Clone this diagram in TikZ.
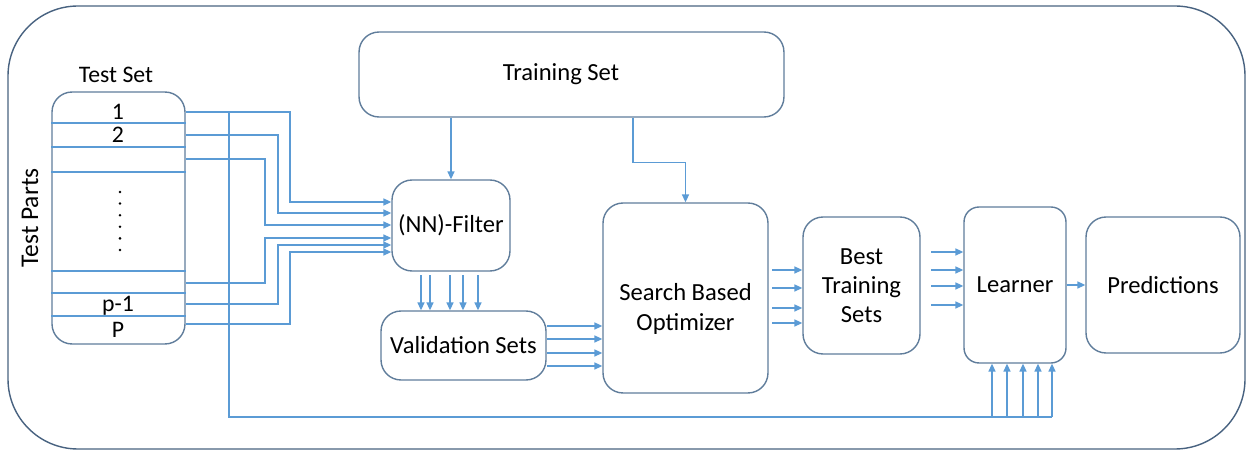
\documentclass[tikz,border=0pt]{standalone}
\usepackage{fontspec}
\setmainfont{Carlito}
\usetikzlibrary{positioning,arrows.meta}
\definecolor{linec}{RGB}{91,155,213}
\definecolor{boxc}{RGB}{96,125,155}
\definecolor{framec}{RGB}{72,98,128}

\begin{document}
\begin{tikzpicture}[x=0.02cm,y=-0.02cm,
  box/.style={draw=boxc,line width=0.8pt,rounded corners=0.4cm,align=center,inner sep=0pt,font=\fontsize{14}{16.5}\selectfont},
  arr/.style={draw=linec,line width=0.8pt,-{Triangle[length=4.5pt,width=4pt]}},
  wire/.style={draw=linec,line width=0.8pt},
  lbl/.style={inner sep=0pt,font=\fontsize{13.5}{15}\selectfont}]
\useasboundingbox (0,0) rectangle (1248,452);
\draw[framec,line width=0.8pt,rounded corners=1.4cm] (8,6) rectangle (1245,449);

% boxes
\node[box,minimum width=8.5cm,minimum height=1.7cm] (train) at (571.5,74.5) {Training Set\hspace*{12pt}};
\node[box,minimum width=2.66cm,minimum height=5.04cm] (test) at (118.5,218) {};
\node[box,minimum width=2.36cm,minimum height=1.82cm] (filter) at (451,225.5) {(NN)-Filter};
\node[box,minimum width=3.3cm,minimum height=1.38cm] (val) at (463.5,345.5) {Validation Sets};
\node[box,minimum width=3.3cm,minimum height=3.8cm,font=\fontsize{14}{17}\selectfont] (sbo) at (685.5,298) {\rule{0pt}{22pt}Search Based\\Optimizer};
\node[box,minimum width=2.34cm,minimum height=2.74cm] (best) at (861.5,285.5) {Best\\Training\\Sets};
\node[box,minimum width=2.04cm,minimum height=3.12cm,rounded corners=0.3cm] (learner) at (1015,285) {Learner};
\node[box,minimum width=3.08cm,minimum height=2.72cm] (pred) at (1163,285) {Predictions};

% test set parts
\node[lbl] (testset) at (116,75) {Test Set};
\node[lbl,rotate=90,font=\fontsize{14.5}{16}\selectfont] (parts) at (30,218) {Test Parts};
\foreach \y in {123,147,172,271,293,316}
  \draw[wire] (test.west |- 0,\y) -- (test.east |- 0,\y);
\node[lbl] (p1) at (118,112) {1};
\node[lbl] (p2) at (118,135) {2};
\node[lbl] (pm) at (118,306) {p-1};
\node[lbl] (pn) at (118,330) {P};
\foreach \d in {0,...,5}
  \fill (120,192+11.6*\d) circle (0.028cm);

% test parts into filter
\foreach \ry/\tx/\fy in {112/290/202,135/278/213,159/265/225,283/265/238,304/278/245,324/290/252}
  \draw[arr] (test.east |- 0,\ry) -| (\tx,\fy) -- (filter.west |- 0,\fy);

% training set
\draw[arr] (train.south -| filter.north) -- (filter.north);
\draw[arr] ([xshift=1.23cm]train.south) -- ++(0,45) -| (sbo.north);

\foreach \x in {421,430,450,463,478}
  \draw[arr] ([yshift=-2pt]filter.south -| \x,0) -- (val.north -| \x,0);
\foreach \y in {326,339,353,366}
  \draw[arr] (val.east |- 0,\y) -- (sbo.west |- 0,\y);
\foreach \y in {270,288,308,323}
  \draw[arr] ([xshift=2pt]sbo.east |- 0,\y) -- (best.west |- 0,\y);
\foreach \y in {252,270,286,305}
  \draw[arr] ([xshift=6pt]best.east |- 0,\y) -- (learner.west |- 0,\y);
\draw[arr] (learner) -- (pred);

% test set straight to learner
\coordinate (busTop) at (229,112);
\coordinate (busEnd) at (1052,417);
\draw[wire] (busTop) |- (busEnd);
\foreach \x in {992,1007,1023,1038,1052}
  \draw[arr] (busEnd -| \x,0) -- (learner.south -| \x,0);
\end{tikzpicture}
\end{document}
